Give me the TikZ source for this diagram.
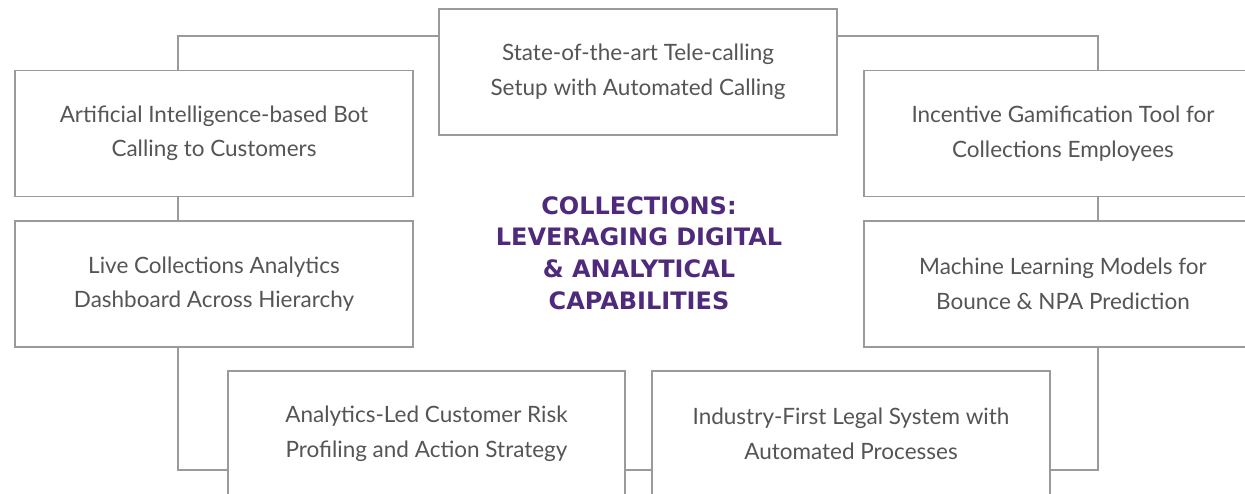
\documentclass[tikz,border=0pt]{standalone}
\usepackage{fontspec}
\setmainfont{Lato}
\newfontfamily\headfont{DejaVu Sans}
\definecolor{boxline}{HTML}{9A9A9A}
\definecolor{bodytext}{HTML}{555555}
\definecolor{headpurple}{HTML}{4F2A7C}
\begin{document}
\begin{tikzpicture}[x=1pt,y=-1pt,
  card/.style={draw=boxline,line width=1.2pt,fill=white,rectangle,
    minimum width=398pt,minimum height=126pt,align=center,
    text=bodytext,font=\fontsize{22.5}{34.5}\selectfont,inner sep=0pt},
  link/.style={draw=boxline,line width=1.2pt}]
\useasboundingbox (0,0) rectangle (1245,493);
\clip (0,0) rectangle (1245,493);

% tracks for the connectors
\coordinate (lx) at (178,0);
\coordinate (rx) at (1098,0);
\coordinate (ty) at (0,36);
\coordinate (by) at (0,470);

% card outlines placed first so the connectors can run beneath the cards
\node[card,draw=none,fill=none] (top0) at (638,72) {};
\node[card,draw=none,fill=none] (aibot0) at (214,133.5) {};
\node[card,draw=none,fill=none] (incent0) at (1063,133.5) {};
\node[card,draw=none,fill=none] (live0) at (214,284) {};
\node[card,draw=none,fill=none] (ml0) at (1063,284) {};
\node[card,draw=none,fill=none,minimum width=397pt] (risk0) at (426.5,434) {};
\node[card,draw=none,fill=none] (legal0) at (851,434) {};

\draw[link] (aibot0.north -| lx) |- (top0.west |- ty);
\draw[link] (top0.east |- ty) -| (incent0.north -| rx);
\draw[link] (aibot0.south -| lx) -- (live0.north -| lx);
\draw[link] (incent0.south -| rx) -- (ml0.north -| rx);
\draw[link] (live0.south -| lx) |- (risk0.west |- by);
\draw[link] (ml0.south -| rx) |- (legal0.east |- by);
\draw[link] (risk0.east |- by) -- (legal0.west |- by);

% cards
\node[card] (top) at (top0) {State-of-the-art Tele-calling\\Setup with Automated Calling};
\node[card] (aibot) at (aibot0) {Artificial Intelligence-based Bot\\Calling to Customers};
\node[card] (incent) at (incent0) {Incentive Gamification Tool for\\Collections Employees};
\node[card] (live) at (live0) {Live Collections Analytics\\Dashboard Across Hierarchy};
\node[card] (ml) at (ml0) {Machine Learning Models for\\Bounce \& NPA Prediction};
\node[card,minimum width=397pt] (risk) at (risk0) {Analytics-Led Customer Risk\\Profiling and Action Strategy};
\node[card] (legal) at (legal0) {Industry-First Legal System with\\Automated Processes};

% heading
\node[align=center,text=headpurple,font=\headfont\bfseries\fontsize{24}{31.8}\selectfont] (title) at (639,253)
  {COLLECTIONS:\\LEVERAGING DIGITAL\\\& ANALYTICAL\\CAPABILITIES};
\end{tikzpicture}
\end{document}
